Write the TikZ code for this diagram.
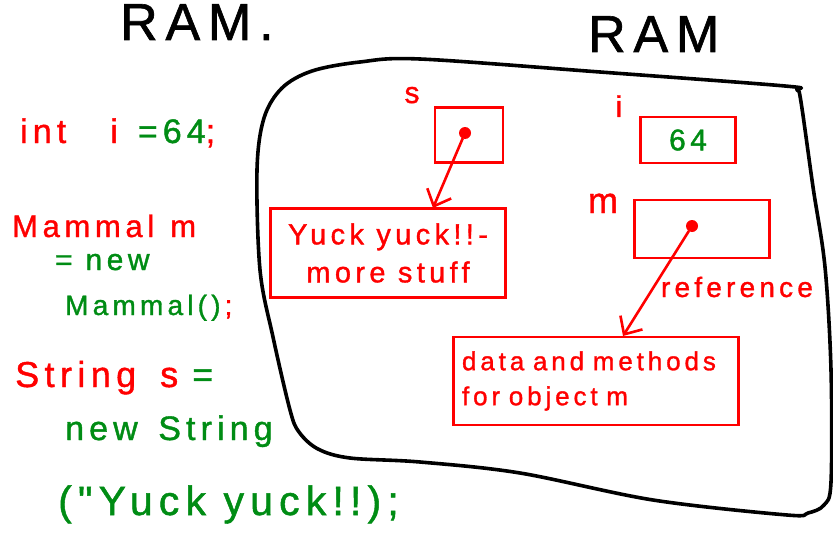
\documentclass[tikz,border=0pt]{standalone}
\usepackage{fontspec}
\newfontfamily\handfont[LetterSpace=15,FakeBold=1.2]{Liberation Sans}
\usetikzlibrary{arrows.meta}

\definecolor{memred}{RGB}{255,0,0}
\definecolor{memgreen}{RGB}{0,140,20}
\newcommand{\fsz}[2]{\fontsize{#1}{#2}\selectfont}

\tikzset{
  txt/.style={inner sep=0pt, anchor=base west, font=\handfont},
  cell/.style={draw=memred, line width=2.6pt, inner sep=0pt, text=memred},
  dot/.style={circle, fill=memred, minimum size=12pt, inner sep=0pt},
  ptr/.style={draw=memred, line width=2.6pt, line cap=round,
    -{Straight Barb[length=14pt,width=26pt]}},
  wall/.style={draw=black, line width=3.6pt, line cap=round, line join=round}
}

\begin{document}
\begin{tikzpicture}[x=1pt,y=-1pt]
  \useasboundingbox (0,0) rectangle (833,535);

  %% titles
  \node[txt, font=\handfont\fsz{52}{52}] (ramleft) at (120,40) {RAM.};
  \node[txt, font=\handfont\fsz{52}{52}] (ramright) at (588,52) {RAM};

  %% the code on the left
  \node[txt, font=\handfont\fsz{34}{34}] (ln1) at (20,143)
    {\color{memred}int\hspace{44pt}i\hspace{20pt}\color{memgreen}=64\color{memred};};
  \node[txt, font=\handfont\fsz{31}{31}, text=memred] (ln2) at (12,237) {Mammal\hspace{16pt}m};
  \node[txt, font=\handfont\fsz{30}{30}, text=memgreen] (ln3) at (55,270) {= new};
  \node[txt, font=\handfont\fsz{28}{28}] (ln4) at (65,315)
    {\color{memgreen}Mammal()\hspace{4pt}\color{memred};};
  \node[txt, font=\handfont\fsz{36}{36}] (ln5) at (15,387)
    {\color{memred}String\hspace{24pt}s\hspace{14pt}\color{memgreen}=};
  \node[txt, font=\handfont\fsz{34}{34}, text=memgreen] (ln6) at (65,440) {new\hspace{6pt} String};
  \node[txt, font=\handfont\fsz{41}{41}, text=memgreen] (ln7) at (58,515) {("Yuck yuck!!);};

  %% the RAM itself
  \draw[wall] plot[smooth cycle, tension=0.55] coordinates {
    (257,170) (264,118) (282,88) (312,71) (360,62) (420,59) (600,72)
    (785,86) (797,90) (801,102) (813,187) (825,267) (831,370) (831,482)
    (824,505) (808,513) (787,515) (653,500) (520,473) (420,462) (350,458)
    (318,449) (299,432) (290,410) (273,337) (260,270)};

  %% variable s
  \node[txt, anchor=base, font=\handfont\fsz{30}{30}, text=memred] (slab) at (412,103) {s};
  \node[cell, minimum width=68pt, minimum height=55pt] (sbox) at (469,135) {};
  \node[dot] (sdot) at (465,133) {};

  %% variable i
  \node[txt, anchor=base, font=\handfont\fsz{30}{30}, text=memred] (ilab) at (619,117) {i};
  \node[cell, minimum width=95pt, minimum height=46pt,
    font=\handfont\fsz{30}{30}, text=memgreen] (ibox) at (688,140) {64};

  %% variable m
  \node[txt, anchor=base, font=\handfont\fsz{36}{36}, text=memred] (mlab) at (603,213) {m};
  \node[cell, minimum width=135pt, minimum height=58pt] (mbox) at (702,229) {};
  \node[dot] (mdot) at (692,226) {};

  %% the objects
  \node[cell, minimum width=235pt, minimum height=89pt, align=center,
    font=\handfont\fsz{29}{38}] (yuck) at (388,253) {Yuck yuck!!-\\more stuff};
  \node[cell, minimum width=285pt, minimum height=88pt, text width=268pt,
    inner xsep=8pt, align=left, font=\handfont\fsz{26}{35}] (obj) at (596,381)
    {data and methods\\for object m};
  \node[txt, anchor=base, font=\handfont\fsz{28}{28}, text=memred] (reflab) at (737,297) {reference};

  %% pointers
  \coordinate (ytip) at (433,208);
  \coordinate (otip) at (623,336);
  \draw[ptr] (sdot) -- (ytip);
  \draw[ptr] (mdot) -- (otip);
\end{tikzpicture}
\end{document}
